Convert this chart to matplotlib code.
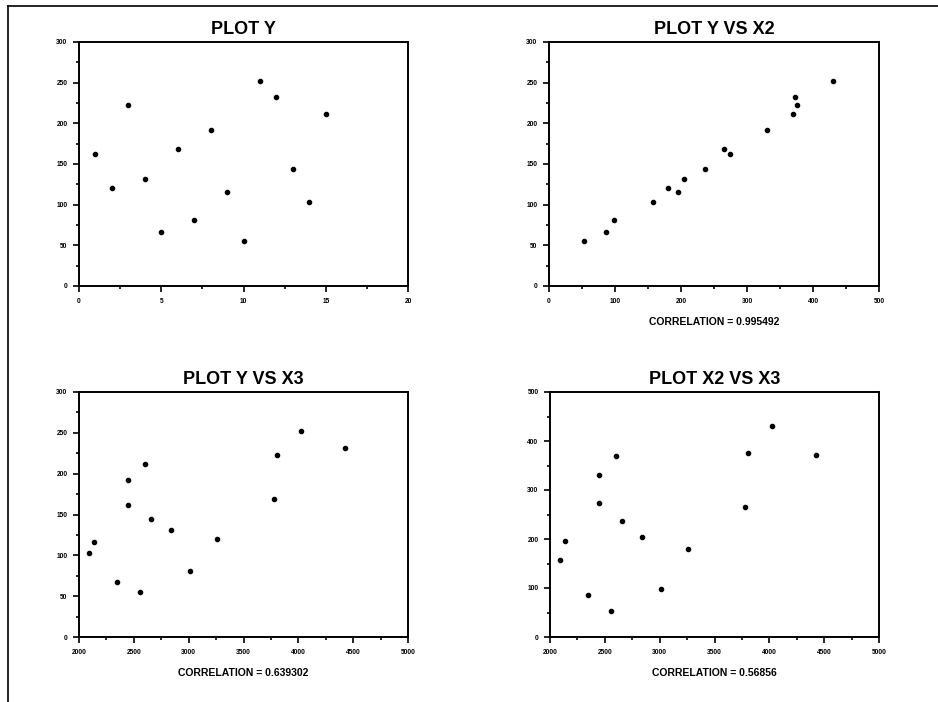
import numpy as np
import matplotlib
matplotlib.use('Agg')
import matplotlib.pyplot as plt
from matplotlib.ticker import MultipleLocator, AutoMinorLocator
from matplotlib.lines import Line2D

plt.rcParams['font.family'] = ['Liberation Sans', 'DejaVu Sans']
plt.rcParams['font.weight'] = 'bold'

# data (sales territory set)
idx = np.arange(1, 16)
y = [162, 120, 223, 131, 67, 169, 81, 192, 116, 55, 252, 232, 144, 103, 212]
x2 = [274, 180, 375, 205, 86, 265, 98, 330, 195, 53, 430, 372, 236, 157, 370]
x3 = [2450, 3254, 3802, 2838, 2347, 3782, 3008, 2450, 2137, 2560, 4020, 4427, 2660, 2088, 2605]

titles = ['PLOT Y', 'PLOT Y VS X2', 'PLOT Y VS X3', 'PLOT X2 VS X3']
notes = [None, 'CORRELATION = 0.995492', 'CORRELATION = 0.639302', 'CORRELATION = 0.56856']
pairs = [(idx, y), (x2, y), (x3, y), (x3, x2)]
xlims = [(0, 20, 5), (0, 500, 100), (2000, 5000, 500), (2000, 5000, 500)]
ylims = [(0, 300, 50), (0, 300, 50), (0, 300, 50), (0, 500, 100)]

W, H = 938, 702
fig = plt.figure(figsize=(W / 100, H / 100), dpi=100)

# axes boxes in pixels: left, top, right, bottom
boxes = [(79, 42, 408, 286), (549, 42, 879, 286),
         (79, 392, 408, 637), (550, 392, 879, 637)]

for i, (l, t, r, b) in enumerate(boxes):
    ax = fig.add_axes([l / W, 1 - b / H, (r - l) / W, (b - t) / H])
    xs, ys = pairs[i]
    ax.plot(xs, ys, 'o', color='black', ms=3.0, mec='black')
    x0, x1, xs_ = xlims[i]
    y0, y1, ys_ = ylims[i]
    ax.set_xlim(x0, x1)
    ax.set_ylim(y0, y1)
    ax.xaxis.set_major_locator(MultipleLocator(xs_))
    ax.yaxis.set_major_locator(MultipleLocator(ys_))
    ax.xaxis.set_minor_locator(AutoMinorLocator(2))
    ax.yaxis.set_minor_locator(AutoMinorLocator(2))
    ax.tick_params(which='major', direction='out', length=4.3, width=1.2,
                   labelsize=4.8, pad=4.0)
    ax.tick_params(which='minor', direction='out', length=2.2, width=1.2)
    for lab in ax.get_xticklabels() + ax.get_yticklabels():
        lab.set_fontweight('bold')
    for s in ax.spines.values():
        s.set_linewidth(1.4)
    ax.set_title(titles[i], fontsize=13, fontweight='bold', pad=5.5)
    if notes[i]:
        ax.annotate(notes[i], xy=(0.5, 0), xycoords='axes fraction',
                    xytext=(0, -26), textcoords='offset points',
                    ha='center', va='center', fontsize=7.5, fontweight='bold')

# outer frame: top and left edges
fig.add_artist(Line2D([8 / W, 938 / W], [1 - 6 / H, 1 - 6 / H], color='black', lw=1.2))
fig.add_artist(Line2D([8 / W, 8 / W], [1 - 6 / H, 0], color='black', lw=1.2))

fig.savefig('out.png', dpi=100)
